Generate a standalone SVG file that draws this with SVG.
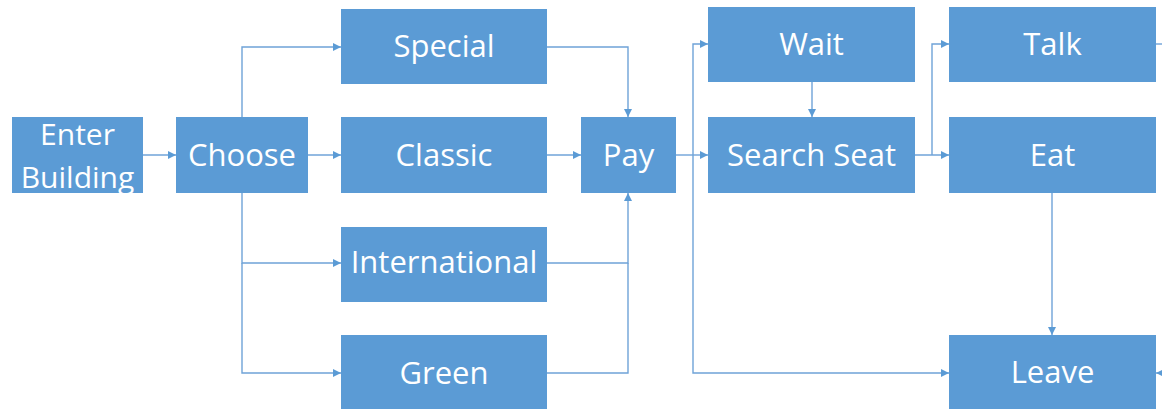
<svg xmlns="http://www.w3.org/2000/svg" width="1162" height="409" viewBox="0 0 1162 409">
  <style>
    .box { fill: #5B9BD5; }
    .label { fill: #FFFFFF; font-family: "Open Sans", "Noto Sans", sans-serif; font-size: 31px; text-anchor: middle; }
    .small { font-size: 30px; }
    .edge { fill: none; stroke: #6FA3D8; stroke-width: 1.4; }
  </style>
  <defs>
    <marker id="arrow" viewBox="0 0 10 10" refX="10" refY="5" markerWidth="8" markerHeight="8" markerUnits="userSpaceOnUse" orient="auto">
      <path d="M0,0 L10,5 L0,10 Z" fill="#5B9BD5"/>
    </marker>
  </defs>
  <rect width="1162" height="409" fill="#FFFFFF"/>

  <g id="connectors">
    <path class="edge" d="M143,155 H176" marker-end="url(#arrow)"/>
    <path class="edge" d="M242,117 V47 H341" marker-end="url(#arrow)"/>
    <path class="edge" d="M308,155 H341" marker-end="url(#arrow)"/>
    <path class="edge" d="M242,193 V263 H341" marker-end="url(#arrow)"/>
    <path class="edge" d="M242,263 V373 H341" marker-end="url(#arrow)"/>
    <path class="edge" d="M547,47 H628 V117" marker-end="url(#arrow)"/>
    <path class="edge" d="M547,155 H581" marker-end="url(#arrow)"/>
    <path class="edge" d="M547,263 H628 V193" marker-end="url(#arrow)"/>
    <path class="edge" d="M547,373 H628 V263"/>
    <path class="edge" d="M676,155 H708" marker-end="url(#arrow)"/>
    <path class="edge" d="M693,155 V44 H708" marker-end="url(#arrow)"/>
    <path class="edge" d="M693,155 V373 H949" marker-end="url(#arrow)"/>
    <path class="edge" d="M812,82 V117" marker-end="url(#arrow)"/>
    <path class="edge" d="M915,155 H949" marker-end="url(#arrow)"/>
    <path class="edge" d="M932,155 V44 H949" marker-end="url(#arrow)"/>
    <path class="edge" d="M1052,193 V335" marker-end="url(#arrow)"/>
    <path class="edge" d="M1156,44 H1162"/>
    <path class="edge" d="M1170,373 H1156" marker-end="url(#arrow)"/>
  </g>

  <g id="enter-building">
    <rect class="box" x="12" y="117" width="131" height="76"/>
    <text class="label small" x="77.5" y="145">Enter</text>
    <text class="label small" x="77.5" y="188">Building</text>
  </g>
  <g id="choose">
    <rect class="box" x="176" y="117" width="132" height="76"/>
    <text class="label" x="242" y="166">Choose</text>
  </g>
  <g id="special">
    <rect class="box" x="341" y="9" width="206" height="75"/>
    <text class="label" x="444" y="57">Special</text>
  </g>
  <g id="classic">
    <rect class="box" x="341" y="117" width="206" height="76"/>
    <text class="label" x="444" y="166">Classic</text>
  </g>
  <g id="international">
    <rect class="box" x="341" y="227" width="206" height="75"/>
    <text class="label" x="444" y="273">International</text>
  </g>
  <g id="green">
    <rect class="box" x="341" y="335" width="206" height="76"/>
    <text class="label" x="444" y="384">Green</text>
  </g>
  <g id="pay">
    <rect class="box" x="581" y="117" width="95" height="76"/>
    <text class="label" x="628.5" y="166">Pay</text>
  </g>
  <g id="wait">
    <rect class="box" x="708" y="7" width="207" height="75"/>
    <text class="label" x="811.5" y="55">Wait</text>
  </g>
  <g id="search-seat">
    <rect class="box" x="708" y="117" width="207" height="76"/>
    <text class="label" x="811.5" y="166">Search Seat</text>
  </g>
  <g id="talk">
    <rect class="box" x="949" y="7" width="207" height="75"/>
    <text class="label" x="1052.5" y="55">Talk</text>
  </g>
  <g id="eat">
    <rect class="box" x="949" y="117" width="207" height="76"/>
    <text class="label" x="1052.5" y="166">Eat</text>
  </g>
  <g id="leave">
    <rect class="box" x="949" y="335" width="207" height="76"/>
    <text class="label" x="1052.5" y="383">Leave</text>
  </g>
</svg>
